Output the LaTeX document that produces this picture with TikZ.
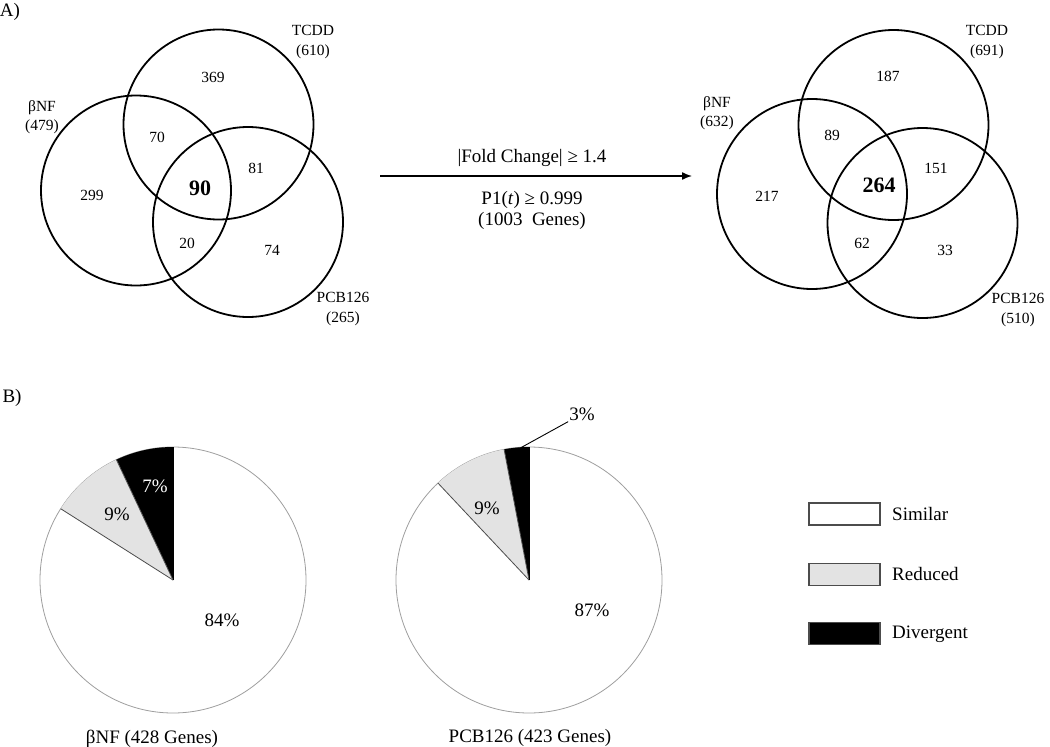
\documentclass[tikz,border=0pt]{standalone}
\usepackage{fontspec}
\setmainfont{Liberation Serif}
\usetikzlibrary{arrows.meta,calc}
\begin{document}
\begin{tikzpicture}[x=1pt,y=-1pt,
  venn/.style={circle,draw,line width=1.8pt,inner sep=0pt,outer sep=0pt,minimum size=190pt},
  vnum/.style={font=\fontsize{15.5}{18}\selectfont,inner sep=1pt},
  vbold/.style={font=\fontsize{22}{24}\selectfont\bfseries,inner sep=1pt},
  vlab/.style={font=\fontsize{15.5}{19.5}\selectfont,align=center,inner sep=1pt},
  big/.style={font=\fontsize{19}{22}\selectfont,inner sep=1pt},
  piec/.style={circle,draw=gray!75,line width=0.8pt,fill=white,inner sep=0pt,outer sep=0pt,minimum size=266pt},
  slice/.style={draw=gray!60!black,line width=0.8pt},
  legbox/.style={draw=gray!60!black,line width=1.2pt,minimum width=71pt,minimum height=22pt,inner sep=0pt}]
\useasboundingbox (0,0) rectangle (1050,747);

% ---------- Panel A ----------
\node[big] (labA) at (10,12) {A)};

% left Venn
\node[venn] (lT) at (218.5,124.5) {};
\node[venn] (lB) at (136,190.5) {};
\node[venn] (lP) at (248,222) {};
\node[vlab] (lTl) at (313,42) {TCDD\\(610)};
\node[vlab] (lBl) at (42,117) {βNF\\(479)};
\node[vlab] (lPl) at (343,309) {PCB126\\(265)};
\node[vnum] (l369) at (213,77) {369};
\node[vnum] (l70) at (157,137) {70};
\node[vnum] (l81) at (256,168) {81};
\node[vbold] (l90) at (200,188) {90};
\node[vnum] (l299) at (92,195) {299};
\node[vnum] (l20) at (187,243) {20};
\node[vnum] (l74) at (272,250) {74};

% arrow
\coordinate (arS) at (380,176);
\coordinate (arE) at (692,176);
\draw[line width=1.4pt,-{Latex[length=10pt,width=8pt]}] (arS) -- (arE);
\node[big] (fc) at (532,158) {|Fold Change| ≥ 1.4};
\node[big] (p1) at (532,200) {P1(\textit{t}) ≥ 0.999};
\node[big] (ng) at (532,221) {(1003 \ Genes)};

% right Venn
\node[venn] (rT) at (893.5,125) {};
\node[venn] (rB) at (812,194) {};
\node[venn] (rP) at (922.5,223) {};
\node[vlab] (rTl) at (987,42) {TCDD\\(691)};
\node[vlab] (rBl) at (717,113) {βNF\\(632)};
\node[vlab] (rPl) at (1018,310) {PCB126\\(510)};
\node[vnum] (r187) at (888,76) {187};
\node[vnum] (r89) at (832,135) {89};
\node[vnum] (r151) at (936,168) {151};
\node[vbold] (r264) at (879,185) {264};
\node[vnum] (r217) at (767,196) {217};
\node[vnum] (r62) at (862,243) {62};
\node[vnum] (r33) at (945,250) {33};

% ---------- Panel B ----------
\node[big] (labB) at (12,398) {B)};

% pie 1 (betaNF)
\node[piec] (pa) at (173,580) {};
\fill[black] (pa.center) -- ++(-90:133) arc[start angle=-90,end angle=-115.2,radius=133] -- cycle;
\fill[gray!22] (pa.center) -- ++(-115.2:133) arc[start angle=-115.2,end angle=-147.6,radius=133] -- cycle;
\draw[slice] (pa.center) -- ++(-147.6:133);
\draw[slice] (pa.center) -- ++(-115.2:133);
\draw[draw=black,line width=0.8pt] (pa.center) -- ++(-90:133);
\node[big,text=white] (pa7) at (155,486) {7\%};
\node[big] (pa9) at (117,514) {9\%};
\node[big] (pa84) at (222,620) {84\%};
\node[big] (capa) at (152,739) {βNF (428 Genes)};

% pie 2 (PCB126)
\node[piec] (pb) at (529,580) {};
\fill[black] (pb.center) -- ++(-90:133) arc[start angle=-90,end angle=-100.8,radius=133] -- cycle;
\fill[gray!22] (pb.center) -- ++(-100.8:133) arc[start angle=-100.8,end angle=-133.2,radius=133] -- cycle;
\draw[slice] (pb.center) -- ++(-133.2:133);
\draw[slice] (pb.center) -- ++(-100.8:133);
\draw[draw=black,line width=0.8pt] (pb.center) -- ++(-90:133);
\node[big] (pb9) at (487,508) {9\%};
\node[big] (pb87) at (592,610) {87\%};
\node[big] (pb3) at (582,414) {3\%};
\coordinate (lead) at ($(pb.center)+(-95:131)$);
\draw[line width=0.9pt] (lead) -- (pb3.south west);
\node[big] (capb) at (530,738) {PCB126 (423 Genes)};

% legend
\node[legbox,fill=white] (ls) at (844.5,514) {};
\node[legbox,fill=gray!22] (lr) at (844.5,574.5) {};
\node[legbox,fill=black] (ld) at (844.5,633.5) {};
\node[big,anchor=west] (lst) at (891,514) {Similar};
\node[big,anchor=west] (lrt) at (891,574) {Reduced};
\node[big,anchor=west] (ldt) at (891,634) {Divergent};
\end{tikzpicture}
\end{document}
